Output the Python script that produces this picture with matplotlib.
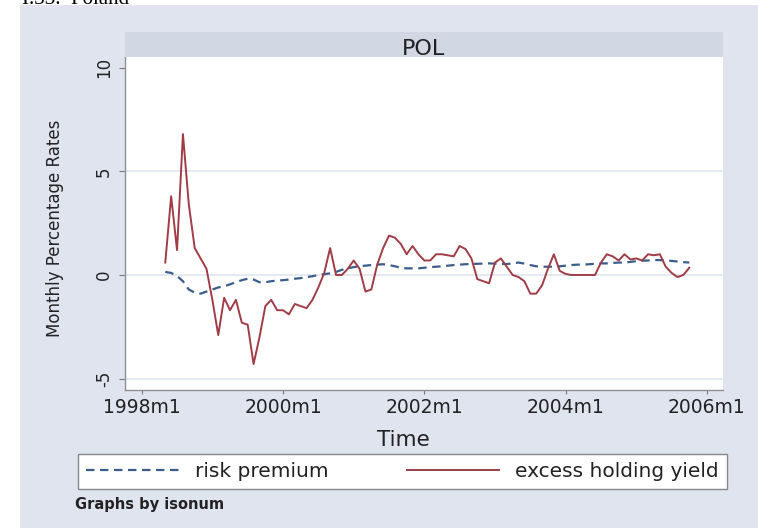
#!/usr/bin/env python3
import numpy as np
import matplotlib
matplotlib.use("Agg")
import matplotlib.pyplot as plt
from matplotlib.patches import Rectangle
from matplotlib.lines import Line2D

# monthly series for POL, months counted from 1998m1 (first obs 1998m5)
start_month = 4
excess_holding_yield = [
    0.6, 3.8, 1.2, 6.8, 3.4, 1.3, 0.8, 0.3, -1.2, -2.9,
    -1.1, -1.7, -1.2, -2.3, -2.4, -4.3, -3.0, -1.5, -1.2, -1.7,
    -1.7, -1.9, -1.4, -1.5, -1.6, -1.2, -0.6, 0.1, 1.3, 0.0,
    0.0, 0.3, 0.7, 0.3, -0.8, -0.7, 0.5, 1.3, 1.9, 1.8,
    1.5, 1.0, 1.4, 1.0, 0.7, 0.7, 1.0, 1.0, 0.95, 0.9,
    1.4, 1.25, 0.8, -0.2, -0.3, -0.4, 0.6, 0.8, 0.4, 0.0,
    -0.1, -0.3, -0.9, -0.9, -0.5, 0.3, 1.0, 0.2, 0.05, 0.0,
    0.0, 0.0, 0.0, 0.0, 0.6, 1.0, 0.9, 0.7, 1.0, 0.75,
    0.8, 0.7, 1.0, 0.95, 1.0, 0.4, 0.1, -0.1, 0.0, 0.35,
]
risk_premium = [
    0.15, 0.1, -0.05, -0.3, -0.7, -0.85, -0.9, -0.8, -0.7, -0.6,
    -0.55, -0.45, -0.35, -0.25, -0.18, -0.22, -0.35, -0.35, -0.3, -0.27,
    -0.25, -0.22, -0.18, -0.15, -0.1, -0.06, 0.0, 0.04, 0.08, 0.15,
    0.25, 0.32, 0.38, 0.42, 0.45, 0.48, 0.5, 0.52, 0.48, 0.42,
    0.35, 0.32, 0.32, 0.32, 0.35, 0.38, 0.4, 0.42, 0.45, 0.48,
    0.5, 0.52, 0.53, 0.54, 0.55, 0.56, 0.55, 0.54, 0.53, 0.56,
    0.6, 0.55, 0.48, 0.42, 0.4, 0.4, 0.4, 0.42, 0.45, 0.48,
    0.5, 0.5, 0.52, 0.54, 0.56, 0.56, 0.58, 0.6, 0.6, 0.63,
    0.67, 0.69, 0.7, 0.72, 0.72, 0.7, 0.68, 0.65, 0.62, 0.6,
]
xtick_months = [0, 24, 48, 72, 96]
xtick_labels = ["1998m1", "2000m1", "2002m1", "2004m1", "2006m1"]
ytick_values = [-5, 0, 5, 10]
ytick_labels = ["-5", "0", "5", "10"]

W, H = 758, 528
BG = "#dfe4ee"
STRIP = "#d2d8e3"
BLUE = "#3a5d8e"
RED = "#a03c46"


def fx(px):
    return px / W


def fy(py):
    return 1 - py / H


fig = plt.figure(figsize=(W / 100, H / 100), dpi=100)
fig.patch.set_facecolor("white")
fig.add_artist(Rectangle((fx(20), 0), 1 - fx(20), fy(5), transform=fig.transFigure,
                         facecolor=BG, edgecolor="none", zorder=0))
# page caption sitting above the graph region, mostly clipped by the top edge
fig.text(fx(22), fy(4.5), "I.33.  Poland", family="Liberation Serif", fontsize=15,
         va="baseline", ha="left")

# panel header
fig.add_artist(Rectangle((fx(125), fy(57)), fx(723) - fx(125), fy(32) - fy(57),
                         transform=fig.transFigure, facecolor=STRIP, edgecolor="none", zorder=1))
fig.text(fx(424), fy(55), "POL", fontsize=16, ha="center", va="baseline", color="#222222")

ax = fig.add_axes([fx(125), fy(390), fx(723) - fx(125), fy(57) - fy(390)])
ax.set_facecolor("white")

months = np.arange(start_month, start_month + len(excess_holding_yield))
ax.plot(months, risk_premium, color=BLUE, lw=1.6, ls=(0, (3.8, 2.5)), zorder=3)
ax.plot(months, excess_holding_yield, color=RED, lw=1.4, zorder=4)

ax.set_xlim(-2.84, 98.73)
ax.set_ylim(-5.55, 10.52)
ax.set_xticks(xtick_months)
ax.set_xticklabels(xtick_labels, fontsize=13.5, color="#222222")
ax.set_yticks(ytick_values)
ax.set_yticklabels(ytick_labels, fontsize=12, rotation=90, va="center", color="#222222")
for v in [-5, 0, 5]:
    ax.axhline(v, color="#e4e9f2", lw=1.5, zorder=1)

for side in ["top", "right"]:
    ax.spines[side].set_visible(False)
for side in ["left", "bottom"]:
    ax.spines[side].set_color("#8a8f98")
    ax.spines[side].set_linewidth(1.0)
ax.tick_params(axis="y", length=4, width=0.8, color="#777777", pad=4.5)
ax.tick_params(axis="x", length=3, width=0.8, color="#777777", pad=3)

ax.set_xlabel("Time", fontsize=15.5, va="center", color="#222222")
ax.xaxis.set_label_coords((403 - 125) / 598, (390 - 440) / 333)
ax.set_ylabel("Monthly Percentage Rates", fontsize=12, va="center", ha="center",
              color="#222222")
ax.yaxis.set_label_coords((55 - 125) / 598, (390 - 228) / 333)

handles = [
    Line2D([], [], color=BLUE, lw=1.6, ls=(0, (3.8, 2.5))),
    Line2D([], [], color=RED, lw=1.4),
]
leg = fig.legend(handles, ["risk premium", "excess holding yield"], ncol=2,
                 loc="center", mode="expand",
                 bbox_to_anchor=(fx(78), fy(489), fx(727) - fx(78), fy(454) - fy(489)),
                 fontsize=14.5, handlelength=4.6, handletextpad=0.8,
                 fancybox=False, framealpha=1, borderaxespad=0, borderpad=0.4)
leg.get_frame().set_edgecolor("#888888")
leg.get_frame().set_linewidth(1.0)
for t in leg.get_texts():
    t.set_color("#222222")

fig.text(fx(75), fy(504), "Graphs by isonum", fontsize=10.5, fontweight="bold",
         ha="left", va="center", color="#222222")

fig.savefig("out.png", dpi=100)
